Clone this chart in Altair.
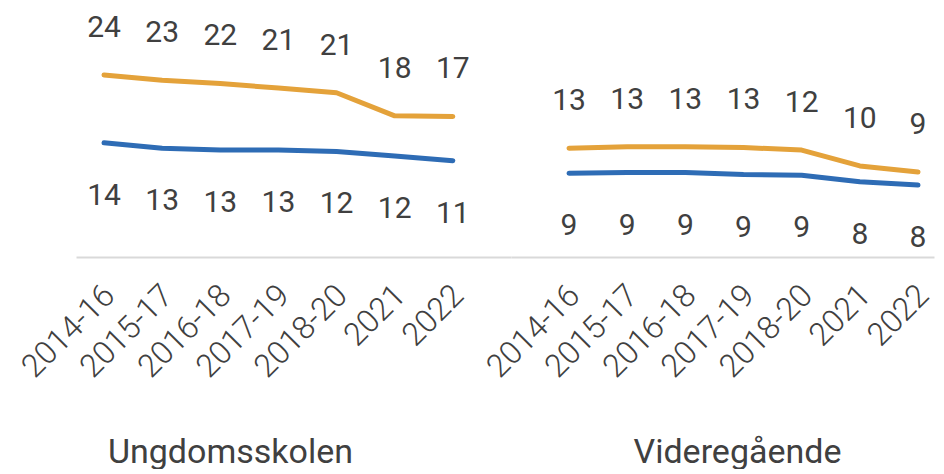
import altair as alt
import pandas as pd

periods = ["2014-16", "2015-17", "2016-18", "2017-19", "2018-20", "2021", "2022"]
groups = ["Ungdomsskolen", "Videregående"]

u_orange = [24.1, 23.3, 22.8, 22.1, 21.4, 17.9, 17.8]
u_blue = [13.8, 13.0, 12.7, 12.7, 12.5, 11.8, 11.1]
v_orange = [13.0, 13.2, 13.2, 13.1, 12.7, 10.3, 9.4]
v_blue = [9.2, 9.3, 9.3, 9.0, 8.9, 7.9, 7.4]

u_orange_lbl = ["24", "23", "22", "21", "21", "18", "17"]
u_blue_lbl = ["14", "13", "13", "13", "12", "12", "11"]
v_orange_lbl = ["13", "13", "13", "13", "12", "10", "9"]
v_blue_lbl = ["9", "9", "9", "9", "9", "8", "8"]

ORANGE = "#E4A23A"
BLUE = "#2E6CB5"
TEXT = "#404040"
FONT = "Roboto"


def build(values_o, values_b, lbl_o, lbl_b):
    rows = []
    for p, vo, vb, lo, lb in zip(periods, values_o, values_b, lbl_o, lbl_b):
        rows.append({"period": p, "series": "o", "value": vo, "label": lo})
        rows.append({"period": p, "series": "b", "value": vb, "label": lb})
    return pd.DataFrame(rows)


def panel(df, group, width, pad, align, title_x):
    x = alt.X(
        "period:N",
        sort=periods,
        scale=alt.Scale(type="point", padding=pad, align=align),
        axis=alt.Axis(
            title=group,
            labelAngle=-45,
            labelAlign="right",
            labelBaseline="middle",
            labelFontSize=32,
            labelFont=FONT,
            labelFontWeight=300,
            labelColor=TEXT,
            labelPadding=33,
            labelOffset=5,
            labelOverlap=False,
            ticks=False,
            grid=False,
            domainColor="#D9D9D9",
            domainWidth=2,
            titleFont=FONT,
            titleFontSize=34,
            titleFontWeight="normal",
            titleColor=TEXT,
            titleX=title_x,
            titleY=205,
            titleAlign="center",
            titleBaseline="alphabetic",
        ),
    )
    y = alt.Y(
        "value:Q",
        scale=alt.Scale(domain=[-3.5, 34.24], nice=False, zero=False),
        axis=None,
    )
    color = alt.Color(
        "series:N",
        scale=alt.Scale(domain=["o", "b"], range=[ORANGE, BLUE]),
        legend=None,
    )
    base = alt.Chart(df).encode(x=x, y=y)
    lines = base.mark_line(strokeWidth=5, strokeCap="round", strokeJoin="round").encode(
        color=color, detail="series:N"
    )
    top = base.transform_filter(alt.datum.series == "o").mark_text(
        font=FONT, fontSize=30, color=TEXT, dy=-47, baseline="middle"
    ).encode(text="label:N")
    bot = base.transform_filter(alt.datum.series == "b").mark_text(
        font=FONT, fontSize=30, color=TEXT, dy=53, baseline="middle"
    ).encode(text="label:N")
    return alt.layer(lines, top, bot).properties(width=width, height=249)


left = panel(build(u_orange, u_blue, u_orange_lbl, u_blue_lbl), groups[0], 435, 0.741, 0.325, 154)
right = panel(build(v_orange, v_blue, v_orange_lbl, v_blue_lbl), groups[1], 423, 0.636, 0.784, 226)

chart = (
    alt.hconcat(left, right, spacing=0, bounds="flush")
    .properties(padding={"left": 7, "top": 0, "right": 0, "bottom": 0})
    .configure_view(stroke=None)
    .configure_concat(spacing=0)
)

chart.save("out.html", embed_options={"renderer": "svg", "actions": False})
